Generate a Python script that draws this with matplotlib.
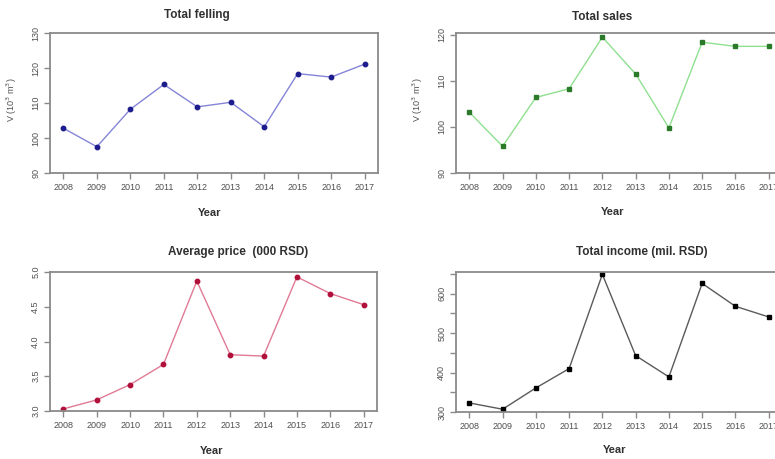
import matplotlib.pyplot as plt
import numpy as np

years = [2008, 2009, 2010, 2011, 2012, 2013, 2014, 2015, 2016, 2017]
felling = [102.8, 97.5, 108.2, 115.3, 108.9, 110.2, 103.2, 118.4, 117.4, 121.1]
sales = [103.2, 95.8, 106.4, 108.3, 119.5, 111.5, 99.8, 118.4, 117.5, 117.5]
price = [3.03, 3.16, 3.38, 3.67, 4.87, 3.81, 3.79, 4.93, 4.69, 4.53]
income = [323, 307, 361, 410, 649, 443, 389, 626, 568, 541]

plt.rcParams['font.family'] = ['Liberation Sans', 'DejaVu Sans']

W, H = 775, 459
fig = plt.figure(figsize=(W / 100, H / 100), dpi=100)


def make_ax(left, top, right, bottom):
    return fig.add_axes([left / W, 1 - bottom / H, (right - left) / W, (bottom - top) / H])


def style(ax, ylim, yticks):
    ax.set_xlim(2007.6, 2017.4)
    ax.set_ylim(*ylim)
    ax.set_xticks(years)
    ax.set_xticklabels([str(y) for y in years])
    ax.set_yticks(yticks)
    for s in ax.spines.values():
        s.set_color('#8a8a8a')
        s.set_linewidth(1.3)
    ax.tick_params(direction='out', length=4, color='#8a8a8a', width=1,
                   labelsize=6.5, labelcolor='#505050', pad=3)
    for lab in ax.get_yticklabels():
        lab.set_rotation(90)
        lab.set_va('center')


panels = [
    (make_ax(50, 33, 378, 173), felling, '#8585d8', '#1c1c8c', 'o', 3.2),
    (make_ax(456, 33, 782, 173), sales, '#8fe08f', '#2a7a2a', 's', 2.2),
    (make_ax(50, 272, 377, 411), price, '#e07a95', '#b0103a', 'o', 3.2),
    (make_ax(456, 272, 782, 412), income, '#5a5a5a', '#000000', 's', 3.4),
]

for ax, vals, lc, mc, m, ms in panels:
    ax.plot(years, vals, color=lc, lw=1.0, marker=m, ms=ms,
            markerfacecolor=mc, markeredgecolor=mc)

style(panels[0][0], (90, 130), [90, 100, 110, 120, 130])
style(panels[1][0], (90, 120.4), [90, 100, 110, 120])
style(panels[2][0], (3.0, 5.0), [3.0, 3.5, 4.0, 4.5, 5.0])
style(panels[3][0], (300, 655), [300, 400, 500, 600])
panels[2][0].set_yticklabels(['3.0', '3.5', '4.0', '4.5', '5.0'], rotation=90, va='center')
ax4 = panels[3][0]
ax4.set_yticks([350, 450, 550, 650], minor=True)
ax4.tick_params(which='minor', direction='out', length=4, color='#8a8a8a', width=1)

titles = [('Total felling', 197, 15), ('Total sales', 602, 17),
          ('Average price  (000 RSD)', 238, 252), ('Total income (mil. RSD)', 642, 252)]
for t, x, y in titles:
    fig.text(x / W, 1 - y / H, t, ha='center', va='center', fontsize=8.5,
             fontweight='bold', color='#303030')

for x, y in [(210, 213), (613, 212), (212, 451), (615, 450)]:
    fig.text(x / W, 1 - y / H, 'Year', ha='center', va='center', fontsize=8,
             fontweight='bold', color='#303030')

for x, y in [(12, 100), (418, 100)]:
    fig.text(x / W, 1 - y / H, 'V (10$^3$ m$^3$)', ha='center', va='center',
             fontsize=6.5, rotation=90, color='#505050')

fig.savefig('out.png', dpi=100)
